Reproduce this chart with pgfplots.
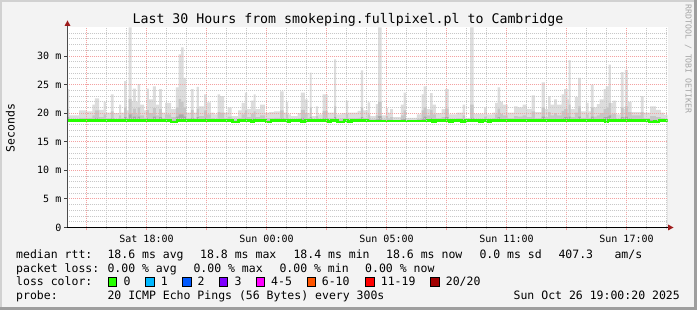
\documentclass[border=0pt]{standalone}
\usepackage{fontspec}
\setmainfont{DejaVu Sans Mono}
\setmonofont{DejaVu Sans Mono}
\usepackage{pgfplots}
\usepackage{pgfplotstable}
\pgfplotsset{compat=1.18}
\definecolor{backg}{HTML}{F3F3F3}
\definecolor{smokeA}{HTML}{DDDDDD}
\definecolor{smokeB}{HTML}{C6C6C6}
\definecolor{smokeC}{HTML}{A9A9A9}
\definecolor{lossA}{HTML}{26FF00}
\definecolor{lossB}{HTML}{00B8FF}
\definecolor{lossC}{HTML}{0059FF}
\definecolor{lossD}{HTML}{7E00FF}
\definecolor{lossE}{HTML}{FF00FF}
\definecolor{lossF}{HTML}{FF5500}
\definecolor{lossG}{HTML}{FF0000}
\definecolor{lossH}{HTML}{A10000}
\definecolor{mgrid}{HTML}{F3A2A2}
\definecolor{ngrid}{HTML}{C8C8C8}
\definecolor{arrowred}{HTML}{9E1B1B}

\pgfplotstableread{
h max mid dark
0.00 24.2 20.7 19.3
0.08 19.6 18.9 18.6
0.58 20.5 19.2 18.7
0.97 20.3 19.2 18.7
1.25 21.5 19.6 18.9
1.37 22.6 20.5 19.2
1.58 20.6 19.3 18.7
1.80 22.0 19.8 18.9
1.92 20.1 19.1 18.7
2.17 23.3 20.3 19.1
2.30 20.0 19.0 18.6
2.58 21.5 19.6 18.9
2.68 20.1 19.1 18.7
2.83 25.6 21.0 19.3
2.95 20.5 19.2 18.7
3.05 35.0 22.5 19.8
3.20 22.0 20.0 19.2
3.27 24.3 20.8 19.4
3.42 22.0 19.8 19.0
3.50 25.1 21.0 19.4
3.63 21.5 19.6 18.9
3.83 20.5 19.2 18.7
3.95 24.3 20.6 19.2
4.07 22.4 20.0 19.0
4.27 24.7 20.9 19.4
4.42 21.5 19.6 18.9
4.58 24.2 20.7 19.3
4.72 20.1 19.1 18.7
4.88 21.8 19.8 18.9
5.18 20.7 19.3 18.7
5.42 24.5 21.0 19.4
5.55 30.3 22.5 19.8
5.68 31.5 22.0 19.8
5.80 26.2 21.0 19.4
5.93 20.1 19.1 18.7
6.17 24.2 20.6 19.2
6.30 20.1 19.1 18.7
6.45 24.6 20.8 19.3
6.57 21.2 19.5 18.8
6.83 23.3 20.5 19.2
6.97 21.9 19.8 18.9
7.17 20.1 19.1 18.7
7.33 19.8 19.0 18.6
7.50 23.3 20.2 19.0
7.63 23.0 20.1 18.9
7.83 20.1 19.1 18.7
8.00 21.0 19.4 18.8
8.20 19.5 18.9 18.6
8.53 20.5 19.2 18.7
8.70 21.8 19.8 18.9
8.87 23.6 20.5 19.1
8.98 20.7 19.3 18.7
9.17 22.2 19.9 19.0
9.30 23.3 20.3 19.1
9.40 20.7 19.3 18.7
9.63 21.5 19.6 18.9
9.87 20.1 19.1 18.7
10.08 20.2 19.1 18.7
10.33 20.3 19.2 18.7
10.63 23.8 20.5 19.1
10.80 20.1 19.1 18.7
10.92 22.0 19.8 18.9
11.03 19.8 19.0 18.6
11.17 19.5 18.9 18.6
11.50 20.0 19.1 18.7
11.67 23.6 20.6 19.2
11.87 22.4 20.0 19.0
12.00 20.0 19.1 18.7
12.12 27.1 21.0 19.3
12.20 19.5 18.9 18.6
12.42 21.2 19.5 18.8
12.53 19.8 19.0 18.6
12.75 23.3 20.4 19.1
13.00 20.1 19.1 18.7
13.33 29.4 21.2 19.3
13.43 19.8 19.0 18.6
13.70 20.0 19.1 18.7
13.92 22.2 19.9 18.9
14.03 20.1 19.1 18.7
14.50 20.4 19.2 18.7
14.67 27.5 21.0 19.3
14.78 20.5 19.2 18.7
15.00 21.9 19.8 18.9
15.13 19.5 18.9 18.6
15.42 21.6 19.6 18.9
15.53 35.0 22.0 19.5
15.70 19.6 18.9 18.6
15.92 20.9 19.5 18.8
16.03 20.1 19.1 18.7
16.13 20.7 19.3 18.7
16.27 19.3 18.8 18.6
16.67 21.5 19.6 18.9
16.80 23.6 20.5 19.1
16.92 19.2 18.8 18.6
17.47 19.8 19.0 18.6
17.70 23.3 20.5 19.1
17.80 24.7 21.0 19.4
17.95 20.7 19.6 18.9
18.13 23.5 20.6 19.2
18.25 21.5 19.8 18.9
18.42 20.0 19.1 18.7
18.70 20.7 19.3 18.7
18.88 24.2 20.8 19.3
19.05 19.8 19.0 18.6
19.47 20.1 19.1 18.7
19.75 21.5 19.6 18.9
19.88 19.2 18.8 18.6
20.13 35.0 21.5 19.2
20.30 19.9 19.0 18.6
20.83 21.0 19.4 18.8
20.97 19.8 19.0 18.6
21.25 20.1 19.1 18.7
21.38 21.8 19.8 18.9
21.50 24.5 20.8 19.3
21.63 22.0 19.9 19.0
21.77 21.5 19.6 18.9
22.00 20.1 19.1 18.7
22.33 21.2 19.5 18.8
22.50 21.0 19.4 18.8
22.75 21.5 19.6 18.9
22.95 20.7 19.3 18.7
23.20 23.1 20.3 19.0
23.37 20.2 19.1 18.7
23.70 25.4 21.0 19.4
23.87 20.7 19.3 18.7
24.03 23.0 20.2 19.0
24.15 21.5 19.6 18.9
24.33 22.4 20.0 19.0
24.47 21.5 19.6 18.9
24.70 23.3 20.4 19.1
24.83 24.2 20.7 19.3
25.00 22.4 20.0 19.0
25.05 29.3 21.5 19.4
25.15 20.7 19.3 18.7
25.37 22.8 20.1 19.0
25.53 26.2 21.2 19.4
25.67 20.3 19.2 18.7
25.92 21.8 19.8 18.9
26.05 20.3 19.2 18.7
26.17 25.0 21.0 19.4
26.30 21.0 19.4 18.8
26.47 21.6 19.6 18.9
26.60 22.4 20.0 19.0
26.80 24.2 20.7 19.3
26.92 24.7 21.0 19.4
27.05 28.5 21.8 19.6
27.17 21.8 19.8 18.9
27.27 22.2 19.9 19.0
27.43 19.8 19.0 18.6
27.67 27.2 21.0 19.3
27.80 20.7 19.3 18.7
27.87 27.6 21.2 19.4
28.02 22.0 20.2 19.1
28.20 20.2 19.6 18.9
28.67 23.0 20.2 19.0
28.80 20.1 19.1 18.7
29.13 21.2 19.5 18.8
29.42 20.6 19.3 18.7
29.67 20.1 19.1 18.7
29.83 19.7 19.0 18.6
30.00 19.7 19.0 18.6
}\smoke

\pgfplotstableread{
h med
0.00 18.70
5.17 18.50
5.47 18.70
5.55 18.85
5.67 18.70
8.25 18.50
8.55 18.70
9.17 18.55
9.33 18.70
9.92 18.50
10.17 18.70
11.00 18.55
11.13 18.70
11.67 18.55
11.87 18.70
13.00 18.55
13.17 18.70
13.50 18.50
13.83 18.70
14.00 18.55
14.20 18.70
15.00 18.62
18.00 18.70
18.25 18.55
18.40 18.70
19.10 18.55
19.25 18.70
19.70 18.55
19.90 18.70
20.60 18.55
20.75 18.70
21.00 18.55
21.15 18.70
26.88 18.50
27.03 18.70
29.08 18.50
29.35 18.60
29.42 18.50
29.58 18.70
30.00 18.70
}\median

\begin{document}
\begin{tikzpicture}[x=1pt,y=1pt]
% frame
\fill[backg] (0,0) rectangle (697,310);
\fill[black!18] (0,0) rectangle (2,310);
\fill[black!18] (0,308) rectangle (697,310);
\fill[black!38] (694,0) rectangle (697,310);
\fill[black!38] (0,0) rectangle (697,3);

\begin{axis}[
  at={(67.5pt,82.5pt)}, anchor=south west,
  scale only axis, width=600pt, height=200pt,
  xmin=0, xmax=30, ymin=0, ymax=35,
  axis background/.style={fill=white},
  axis line style={draw=none},
  axis on top,
  clip=true,
  xtick={0.95,3.95,6.95,9.95,12.95,15.95,18.95,21.95,24.95,27.95},
  xticklabels={,Sat 18:00,,Sun 00:00,,Sun 05:00,,Sun 11:00,,Sun 17:00},
  minor xtick={1.95,2.95,4.95,5.95,7.95,8.95,10.95,11.95,13.95,14.95,16.95,17.95,19.95,20.95,22.95,23.95,25.95,26.95,28.95,29.95},
  ytick={0,5,10,15,20,25,30},
  yticklabels={0,5 m,10 m,15 m,20 m,25 m,30 m},
  minor ytick={1,2,3,4,6,7,8,9,11,12,13,14,16,17,18,19,21,22,23,24,26,27,28,29,31,32,33,34},
  xtick pos=bottom, ytick pos=left,
  tick align=outside,
  major tick length=3pt, minor tick length=2pt,
  every major x tick/.style={color=mgrid, line width=1pt},
  every minor x tick/.style={color=ngrid, line width=1pt},
  every major y tick/.style={color=black!75, line width=1pt},
  every minor y tick/.style={draw=none},
  grid=both,
  every major grid/.style={color=mgrid, line width=1pt, dash pattern=on 1pt off 1pt},
  every minor grid/.style={color=ngrid, line width=1pt, dash pattern=on 1pt off 1pt},
  tick label style={font=\fontsize{10}{12}\selectfont, inner sep=0pt},
  xticklabel style={yshift=-4pt},
  yticklabel style={xshift=-3pt},
]
\addplot[const plot, fill=smokeA, draw=none] table[x=h,y=max] {\smoke} \closedcycle;
\addplot[const plot, fill=smokeB, draw=none] table[x=h,y=mid] {\smoke} \closedcycle;
\addplot[const plot, fill=smokeC, draw=none] table[x=h,y=dark] {\smoke} \closedcycle;
\addplot[fill=white, draw=none] coordinates {(0,18.4) (30,18.4)} \closedcycle;
\addplot[const plot, draw=lossA, line width=2.5pt] table[x=h,y=med] {\median};
\end{axis}

% axis lines and arrows
\draw[line width=1pt, black!70] (67.5,82.5) -- (67.5,285);
\fill[arrowred] (64.5,284) -- (70.5,284) -- (67.5,289.5) -- cycle;
\draw[line width=1pt, black] (67,82.5) -- (668,82.5);
\fill[arrowred] (668,79.5) -- (668,85.5) -- (673.5,82.5) -- cycle;

% title
\node[anchor=base, inner sep=0pt, font=\fontsize{13.25}{15}\selectfont] at (348,286) {Last 30 Hours from smokeping.fullpixel.pl to Cambridge};
% y label
\node[anchor=base, inner sep=0pt, rotate=90, font=\fontsize{11.5}{13}\selectfont] at (14.5,182) {Seconds};
% side credit
\node[anchor=base, inner sep=0pt, rotate=-90, text=black!35, font=\fontsize{8.2}{10}\selectfont] at (685.5,251) {RRDTOOL / TOBI OETIKER};

% legend
\begin{scope}[every node/.style={anchor=base west, inner sep=0pt, font=\fontsize{11.5}{14}\selectfont}]
\node at (16,51.7) {median rtt:};
\node at (107.3,51.7) {18.6 ms avg};
\node at (200,51.7) {18.8 ms max};
\node at (293.3,51.7) {18.4 ms min};
\node at (386,51.7) {18.6 ms now};
\node at (479.3,51.7) {0.0 ms sd};
\node at (558.3,51.7) {407.3};
\node at (614.3,51.7) {am/s};

\node at (16,37.7) {packet loss:};
\node at (107.3,37.7) {0.00 \% avg};
\node at (193.3,37.7) {0.00 \% max};
\node at (279.3,37.7) {0.00 \% min};
\node at (365,37.7) {0.00 \% now};

\node at (16,24) {loss color:};
\node at (123.3,24) {0};
\node at (160.7,24) {1};
\node at (197.3,24) {2};
\node at (234.3,24) {3};
\node at (271,24) {4-5};
\node at (321.7,24) {6-10};
\node at (380.7,24) {11-19};
\node at (445.7,24) {20/20};

\node at (16,10) {probe:};
\node at (107.3,10) {20 ICMP Echo Pings (56 Bytes) every 300s};
\node[anchor=base east] at (680,10) {Sun Oct 26 19:00:20 2025};
\end{scope}

\foreach \bx/\bc in {108.3/lossA,145.7/lossB,182.7/lossC,219.3/lossD,256.3/lossE,307.3/lossF,365.7/lossG,430.7/lossH}{
  \filldraw[fill=\bc, draw=black, line width=0.8pt] (\bx,23.5) rectangle ++(8.3,9);
}
\end{tikzpicture}
\end{document}
